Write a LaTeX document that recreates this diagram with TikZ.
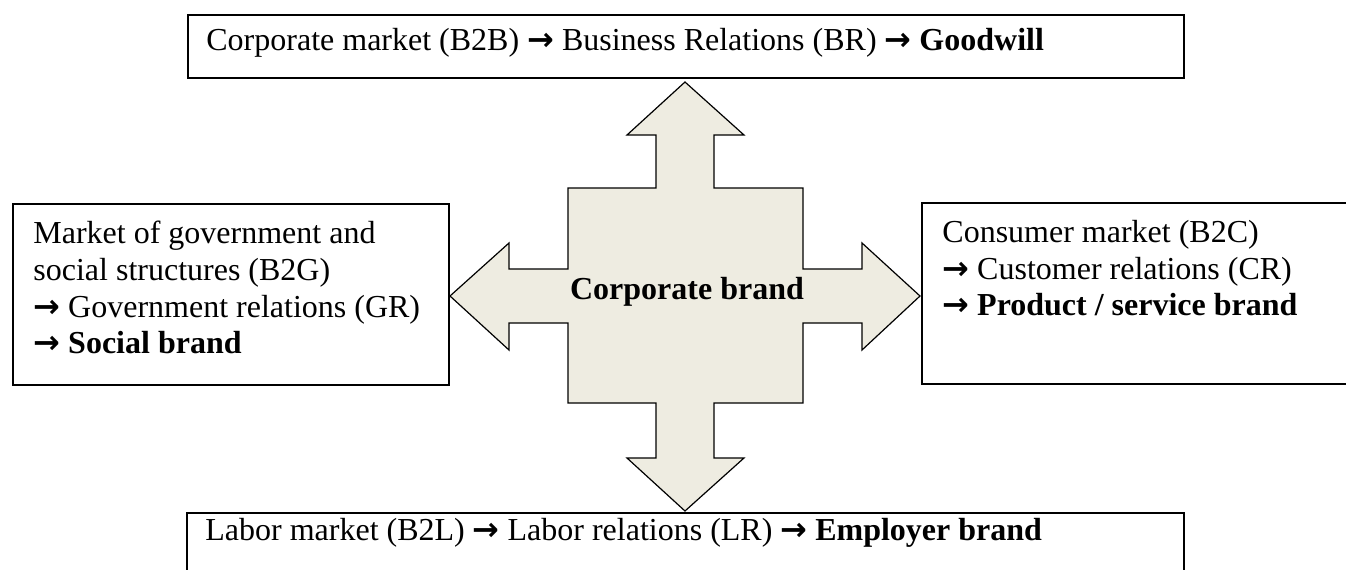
\documentclass[tikz,border=0pt]{standalone}
\usepackage{fontspec}
\setmainfont{Liberation Serif}
\newfontfamily\arrowfont{DejaVu Sans}
\newcommand{\ra}{{\arrowfont\bfseries →}}
\definecolor{crossfill}{HTML}{EEECE1}
\tikzset{
    panel/.style={draw, line width=1pt, rectangle, inner sep=0pt, anchor=north west},
    label/.style={inner sep=0pt, align=left, font=\fontsize{16}{18.3}\selectfont},
    crossline/.style={draw=black, line width=0.6pt, fill=crossfill, line join=miter}
}

\begin{document}
\begin{tikzpicture}[x=0.5pt,y=-0.5pt]
    \useasboundingbox (0,0) rectangle (1346,569);
    \clip (0,0) rectangle (1346,569);
    % Boxes
    \node[panel, minimum width=498pt, minimum height=31.5pt] (b2b) at (187,14) {};
    \node[panel, minimum width=218pt, minimum height=90.5pt] (b2g) at (12,203) {};
    \node[panel, minimum width=250pt, minimum height=90.5pt] (b2c) at (921,202) {};
    \node[panel, minimum width=498.5pt, minimum height=50pt] (b2l) at (186,512) {};
    % Cross
    \path[crossline] (685,82) -- (744,135) -- (714,135) -- (714,188) -- (803,188)
        -- (803,269) -- (862,269) -- (862,243) -- (920,296) -- (862,350) -- (862,323)
        -- (803,323) -- (803,403) -- (714,403) -- (714,458) -- (744,458) -- (685,511)
        -- (627,458) -- (656,458) -- (656,403) -- (568,403) -- (568,323) -- (509,323)
        -- (509,350) -- (450,296) -- (509,243) -- (509,269) -- (568,269) -- (568,188)
        -- (656,188) -- (656,135) -- (627,135) -- cycle;
    \node[label, font=\fontsize{16}{18.3}\selectfont\bfseries] (brand) at (687,292) {Corporate brand};
    % Labels
    \node[label, anchor=base west] (b2btext) at (206,50)
        {Corporate market (B2B) \ra{} Business Relations (BR) \ra{} \textbf{Goodwill}};
    \node[label, anchor=north west] (b2gtext) at (33,221)
        {Market of government and\\social structures (B2G)\\\ra{} Government relations (GR)\\\ra{} \textbf{Social brand}};
    \node[label, anchor=north west] (b2ctext) at (942,220)
        {Consumer market (B2C)\\\ra{} Customer relations (CR)\\\ra{} \textbf{Product / service brand}};
    \node[label, anchor=base west] (b2ltext) at (205,540)
        {Labor market (B2L) \ra{} Labor relations (LR) \ra{} \textbf{Employer brand}};
\end{tikzpicture}
\end{document}
